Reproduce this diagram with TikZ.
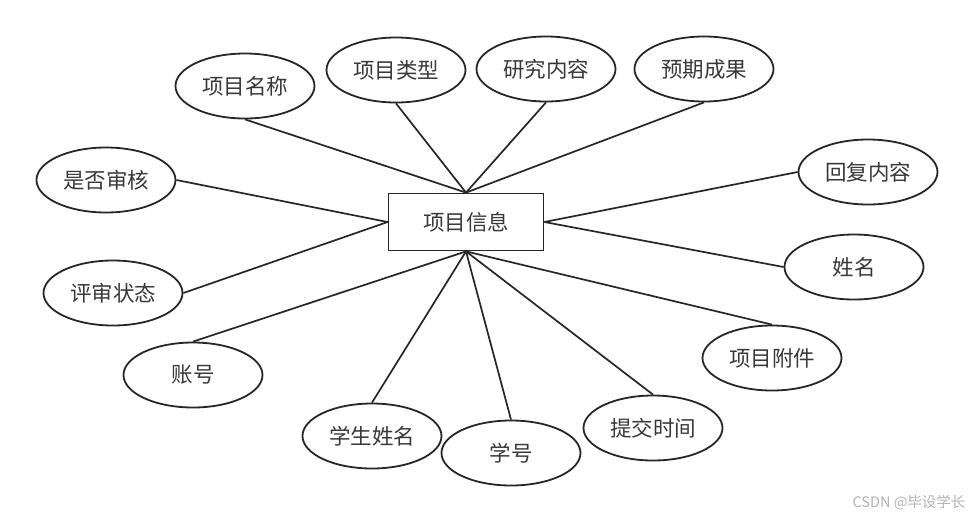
\documentclass[tikz,border=0pt]{standalone}
\usepackage{fontspec}
\newfontfamily\cjk{Noto Sans CJK SC}
\usetikzlibrary{shapes.geometric}

\begin{document}
\begin{tikzpicture}[x=1pt,y=-1pt,
  attr/.style={ellipse,draw=black!85,line width=1.8pt,minimum width=139pt,minimum height=65pt,inner sep=0pt,text=black!78,font=\cjk\fontsize{21.5}{25}\selectfont},
  entity/.style={rectangle,draw=black!85,line width=1.8pt,minimum width=155pt,minimum height=57pt,text=black!78,font=\cjk\fontsize{21.5}{25}\selectfont},
  link/.style={draw=black!85,line width=1.7pt}]
\useasboundingbox (0,0) rectangle (974,523);

\node[entity] (xm) at (466,222) {项目信息};

\node[attr] (mc) at (245,86) {项目名称};
\node[attr] (lx) at (396,70) {项目类型};
\node[attr] (nr) at (546,69) {研究内容};
\node[attr] (cg) at (704,69) {预期成果};
\node[attr] (hf) at (868,172) {回复内容};
\node[attr] (xm2) at (854,267) {姓名};
\node[attr] (fj) at (772,358) {项目附件};
\node[attr] (sj) at (653,428) {提交时间};
\node[attr] (xh) at (511,453) {学号};
\node[attr] (xs) at (372,436) {学生姓名};
\node[attr] (zh) at (193,375) {账号};
\node[attr] (ps) at (113,293) {评审状态};
\node[attr] (sh) at (106,180) {是否审核};

\draw[link] (xm.north) -- (mc.south);
\draw[link] (xm.north) -- (lx.south);
\draw[link] (xm.north) -- (nr.south);
\draw[link] (xm.north) -- (cg.south);
\draw[link] (xm.east) -- (hf.west);
\draw[link] (xm.east) -- (xm2.west);
\draw[link] (xm.south) -- (fj.north);
\draw[link] (xm.south) -- (sj.north);
\draw[link] (xm.south) -- (xh.north);
\draw[link] (xm.south) -- (xs.north);
\draw[link] (xm.south) -- (zh.north);
\draw[link] (xm.west) -- (ps.east);
\draw[link] (xm.west) -- (sh.east);

\node[anchor=east,text=black!30,font=\cjk\fontsize{14.5}{16}\selectfont] (wm) at (969,503) {CSDN @毕设学长};
\end{tikzpicture}
\end{document}
